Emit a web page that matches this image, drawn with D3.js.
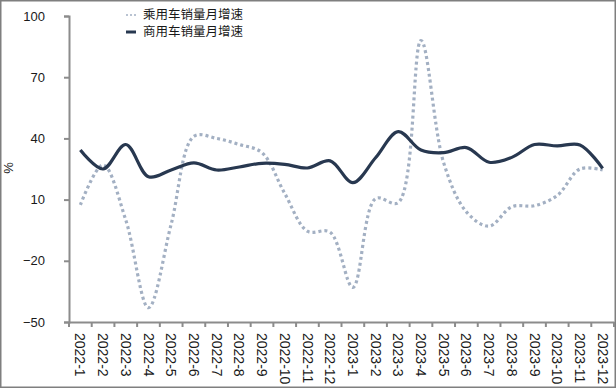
<!DOCTYPE html>
<html>
<head>
<meta charset="utf-8">
<script src="https://cdn.jsdelivr.net/npm/d3@7"></script>
<style>
  body { margin: 0; background: #fff; }
  svg text { font-family: "Liberation Sans", "Noto Sans CJK SC", sans-serif; fill: #1a1a1a; }
</style>
</head>
<body>
<div id="chart"></div>
<script>
const months = ["2022-1","2022-2","2022-3","2022-4","2022-5","2022-6","2022-7","2022-8","2022-9","2022-10","2022-11","2022-12",
  "2023-1","2023-2","2023-3","2023-4","2023-5","2023-6","2023-7","2023-8","2023-9","2023-10","2023-11","2023-12"];
// 乘用车销量月增速
const passenger = [7.4, 27, 0, -43, -2, 41, 40, 37, 33, 13, -5.5, -6,
  -33, 10.5, 8.5, 88, 28, 4, -3, 6.5, 7, 12, 25, 24.5];
// 商用车销量月增速
const commercial = [34.3, 25, 37, 21.2, 24.5, 28, 24.5, 26, 27.8, 27.3, 25.5, 29,
  18.3, 30.5, 43.3, 34.3, 33, 35.5, 28.3, 30.7, 37, 36.3, 36.8, 25.3];
const yTicks = [-50, -20, 10, 40, 70, 100];
const seriesNames = ["乘用车销量月增速", "商用车销量月增速"];

const W = 616, H = 388;
const plotLeft = 69, plotRight = 614, plotTop = 16, plotBottom = 322;

const svg = d3.select("#chart").append("svg")
  .attr("width", W).attr("height", H);

svg.append("rect")
  .attr("x", 0.75).attr("y", 0.75).attr("width", W - 1.5).attr("height", H - 1.5)
  .attr("fill", "#fff").attr("stroke", "#7f7f7f").attr("stroke-width", 1.5);

const x = d3.scaleBand().domain(months).range([plotLeft, plotRight]);
const y = d3.scaleLinear().domain([-50, 100]).range([plotBottom, plotTop]);

// Y axis
const yAxis = svg.append("g")
  .attr("transform", `translate(${plotLeft},0)`)
  .call(d3.axisLeft(y).tickValues(yTicks).tickSize(5).tickPadding(19));
yAxis.select(".domain").attr("stroke", "#8c8c8c").attr("stroke-width", 2);
yAxis.selectAll(".tick line").attr("stroke", "#8c8c8c").attr("stroke-width", 2);
yAxis.selectAll("text").style("font-size", "13px").attr("fill", "#1a1a1a");

// X axis
const xAxis = svg.append("g")
  .attr("transform", `translate(0,${plotBottom})`)
  .call(d3.axisBottom(x).tickSize(0).tickSizeOuter(0));
xAxis.select(".domain").attr("stroke", "#8c8c8c").attr("stroke-width", 2);
xAxis.selectAll("text")
  .style("font-size", "14px")
  .attr("fill", "#111")
  .attr("transform", "rotate(90)")
  .attr("x", 11).attr("y", 0).attr("dy", "0.35em")
  .style("text-anchor", "start");
// tick marks at category boundaries
xAxis.selectAll(".bound")
  .data(months.concat(["end"]))
  .enter().append("line")
  .attr("class", "bound")
  .attr("x1", (d, i) => i < months.length ? x(d) : x.range()[1])
  .attr("x2", (d, i) => i < months.length ? x(d) : x.range()[1])
  .attr("y1", 0).attr("y2", 5)
  .attr("stroke", "#8c8c8c").attr("stroke-width", 2);

svg.append("text")
  .attr("transform", `translate(13,168) rotate(-90)`)
  .style("font-size", "13px")
  .attr("text-anchor", "middle")
  .text("%");

const line = d3.line()
  .x((d, i) => x(months[i]) + x.bandwidth() / 2)
  .y(d => y(d))
  .curve(d3.curveCatmullRom.alpha(0.5));

svg.append("path")
  .datum(passenger)
  .attr("d", line)
  .attr("fill", "none")
  .attr("stroke", "#a3b0c3")
  .attr("stroke-width", 3.2)
  .attr("stroke-dasharray", "3,3");

svg.append("path")
  .datum(commercial)
  .attr("d", line)
  .attr("fill", "none")
  .attr("stroke", "#283850")
  .attr("stroke-width", 3.2)
  .attr("stroke-linejoin", "round");

// Legend
const legend = svg.append("g");
const lg = [
  { name: seriesNames[0], color: "#a3b0c3", dash: "2,2", w: 1.5, y: 15 },
  { name: seriesNames[1], color: "#283850", dash: null, w: 3, y: 32 }
];
lg.forEach(d => {
  legend.append("line")
    .attr("x1", 126).attr("x2", 136).attr("y1", d.y).attr("y2", d.y)
    .attr("stroke", d.color).attr("stroke-width", d.w)
    .attr("stroke-dasharray", d.dash);
  legend.append("text")
    .attr("x", 143).attr("y", d.y).attr("dy", "0.35em")
    .style("font-size", "12.5px")
    .text(d.name);
});
</script>
</body>
</html>
